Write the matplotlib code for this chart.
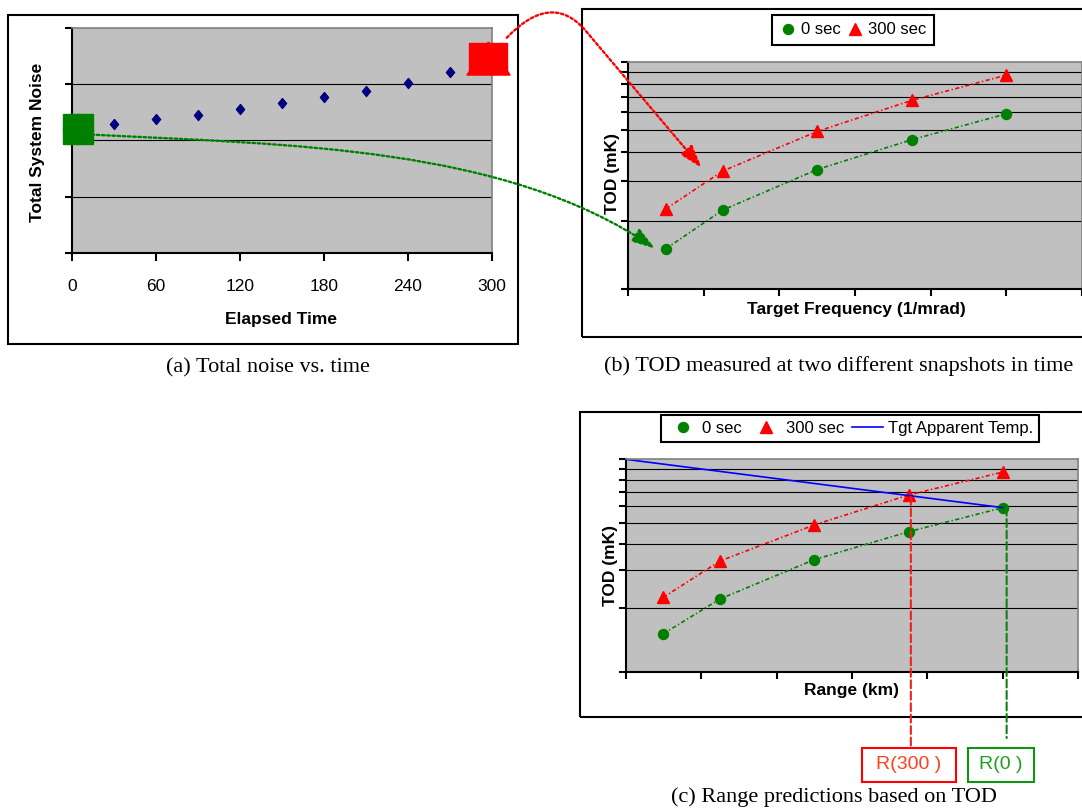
import matplotlib
matplotlib.use('Agg')
import matplotlib.pyplot as plt
from matplotlib.lines import Line2D
from matplotlib.path import Path
from matplotlib.patches import Rectangle, FancyArrowPatch, ArrowStyle, ConnectionPatch
from matplotlib.ticker import FixedLocator, NullFormatter
from matplotlib import transforms
import numpy as np

plt.rcParams['font.family'] = ['Liberation Sans', 'DejaVu Sans']

W, H = 1082, 808

# total system noise, sampled every 30 s
noise_time = [30, 60, 90, 120, 150, 180, 210, 240, 270]
noise_level = [2.30, 2.38, 2.45, 2.56, 2.67, 2.78, 2.88, 3.03, 3.21]
# the two snapshots (0 s and 300 s)
snap_time = [4, 297]
snap_noise = [2.21, 3.47]

# TOD vs target frequency
freq = [0.5, 1.25, 2.5, 3.75, 5.0]
tod_0s = [15.1, 22.3, 33.6, 45.4, 59.0]
tod_300s = [22.6, 33.1, 49.4, 67.6, 87.3]

# TOD vs range, with the apparent target temperature
range_km = [0.5, 1.25, 2.5, 3.75, 5.0]
tod_range_0s = [15.1, 22.0, 33.7, 45.6, 59.2]
tod_range_300s = [22.4, 33.2, 49.1, 67.9, 87.1]
tgt_range = [0.0, 5.0]
tgt_temp = [100.0, 59.2]

# predicted ranges (crossing of TOD with target temperature)
pred_labels = ['R(300 )', 'R(0 )']
pred_range = [3.78, 5.05]
pred_temp = [66.5, 59.2]

GREEN = '#008000'
RED = '#ff0000'
NAVY = '#000080'
BLUE = '#0000ff'
PLOT_BG = '#c0c0c0'

diamond = [(0, 1), (0.82, 0), (0, -1), (-0.82, 0), (0, 1)]
wide_tri = [(0, 1), (-1.3, -1), (1.3, -1), (0, 1)]
wide_box = [(-1.31, -1), (1.31, -1), (1.31, 1), (-1.31, 1), (-1.31, -1)]

fig = plt.figure(figsize=(W / 100, H / 100), dpi=100)


def fig_box(x0, y0, x1, y1):
    return [x0 / W, 1 - y1 / H, (x1 - x0) / W, (y1 - y0) / H]


def add_frame(x0, y0, x1, y1, color='black', lw=1.5):
    l, b, w, h = fig_box(x0, y0, x1, y1)
    fig.add_artist(Rectangle((l, b), w, h, transform=fig.transFigure,
                             fill=False, ec=color, lw=lw, zorder=1))


def style_axes(ax, ticklen_x, ticklen_y):
    ax.set_facecolor(PLOT_BG)
    for s in ('left', 'bottom'):
        ax.spines[s].set(color='black', lw=1.5)
    for s in ('top', 'right'):
        ax.spines[s].set(color='#808080', lw=1.2)
    ax.tick_params(which='both', direction='out', top=False, right=False,
                   width=1.5, color='black')
    ax.tick_params(axis='x', which='both', length=ticklen_x)
    ax.tick_params(axis='y', which='both', length=ticklen_y, labelleft=False)
    ax.yaxis.grid(True, which='minor', color='black', lw=0.8)
    ax.yaxis.grid(False, which='major')


def place_label(ax, label, x_px, y_px):
    pt = fig.transFigure.transform((x_px / W, 1 - y_px / H))
    ax_xy = ax.transAxes.inverted().transform(pt)
    axis = ax.xaxis if label == 'x' else ax.yaxis
    axis.set_label_coords(*ax_xy)
    axis.label.set_verticalalignment('center')
    axis.label.set_horizontalalignment('center')


label_kw = dict(fontsize=12.5, fontweight='bold')

# ---- (a) total noise vs time
add_frame(7.5, 15, 518, 344)
ax_a = fig.add_axes(fig_box(72, 28, 491.9, 252.9))
style_axes(ax_a, 5.8, 4.7)
ax_a.set_xlim(0, 300)
ax_a.set_ylim(0, 4)
ax_a.set_xticks(range(0, 301, 60))
ax_a.yaxis.set_major_locator(FixedLocator([0, 4]))
ax_a.yaxis.set_minor_locator(FixedLocator([1, 2, 3]))
ax_a.tick_params(axis='x', labelsize=12.5, pad=13)
ax_a.plot(noise_time, noise_level, ls='none', marker=diamond, ms=7.2,
          color=NAVY, mec=NAVY, zorder=3)
ax_a.plot(snap_time[0], snap_noise[0], ls='none', marker='s', ms=21,
          color=GREEN, clip_on=False, zorder=5)
ax_a.plot(snap_time[0], snap_noise[0], ls='none', marker='o', ms=21.5,
          color=GREEN, clip_on=False, zorder=5)
ax_a.plot(snap_time[1], snap_noise[1], ls='none', marker=wide_tri, ms=31,
          color=RED, clip_on=False, zorder=5)
ax_a.plot(snap_time[1], snap_noise[1], ls='none', marker=wide_box, ms=27.4,
          color=RED, clip_on=False, zorder=5)
ax_a.set_xlabel('Elapsed Time', **label_kw)
ax_a.set_ylabel('Total System Noise', **label_kw)
place_label(ax_a, 'x', 280.6, 319.5)
place_label(ax_a, 'y', 37.9, 142)


def log_tod_axes(ax):
    style_axes(ax, 4.8, 4.8)
    ax.set_yscale('log')
    ax.set_ylim(10, 100)
    ax.set_xlim(0, 6)
    ax.set_xticks(range(0, 7))
    ax.tick_params(axis='x', labelbottom=False)
    ax.yaxis.set_major_locator(FixedLocator([10, 100]))
    ax.yaxis.set_minor_locator(FixedLocator(list(range(20, 100, 10))))
    ax.yaxis.set_major_formatter(NullFormatter())
    ax.yaxis.set_minor_formatter(NullFormatter())


line_kw = dict(lw=1.2, ls=(0, (2.5, 1.5, 0.8, 1.5)))

# ---- (b) TOD at two snapshots
add_frame(582, 9.3, 1100, 337.3)
ax_b = fig.add_axes(fig_box(628.3, 61.7, 1081.7, 289.3))
log_tod_axes(ax_b)
ax_b.plot(freq, tod_0s, color=GREEN, marker='o', ms=7.2, **line_kw)
ax_b.plot(freq, tod_300s, color=RED, marker='^', ms=8.6, **line_kw)
ax_b.set_xlabel('Target Frequency (1/mrad)', **label_kw)
ax_b.set_ylabel('TOD (mK)', **label_kw)
place_label(ax_b, 'x', 856, 310)
place_label(ax_b, 'y', 612.7, 174)

h_green = Line2D([], [], ls='none', marker='o', ms=7.2, color=GREEN)
h_red = Line2D([], [], ls='none', marker='^', ms=8.6, color=RED)
h_blue = Line2D([], [], color=BLUE, lw=1.2)
leg_b = ax_b.legend([h_green, h_red], ['0 sec', '300 sec'], loc='center',
                    bbox_to_anchor=(853 / W, 1 - 30 / H), bbox_transform=fig.transFigure,
                    ncol=2, fontsize=12, handlelength=1.0, handletextpad=0.25,
                    columnspacing=0.4, borderpad=0.45, fancybox=False, framealpha=1)
leg_b.get_frame().set(edgecolor='black', linewidth=1.5)

# ---- (c) range predictions
add_frame(580, 411.7, 1100, 717.3)
ax_c = fig.add_axes(fig_box(625.7, 459.3, 1078.3, 671.7))
log_tod_axes(ax_c)
ax_c.plot(range_km, tod_range_0s, color=GREEN, marker='o', ms=7.2, **line_kw)
ax_c.plot(range_km, tod_range_300s, color=RED, marker='^', ms=8.6, **line_kw)
ax_c.plot(tgt_range, tgt_temp, color=BLUE, lw=1.2, zorder=2.2)
ax_c.set_xlabel('Range (km)', **label_kw)
ax_c.set_ylabel('TOD (mK)', **label_kw)
place_label(ax_c, 'x', 851.3, 690)
place_label(ax_c, 'y', 610, 566)
leg_c = ax_c.legend([h_green, h_red, h_blue], ['0 sec', '300 sec', 'Tgt Apparent Temp.'],
                    loc='center', bbox_to_anchor=(850 / W, 1 - 428.5 / H),
                    bbox_transform=fig.transFigure, ncol=3, fontsize=12,
                    handlelength=1.85, handletextpad=0.27, columnspacing=0.5,
                    borderpad=0.35, fancybox=False, framealpha=1)
leg_c.get_frame().set(edgecolor='black', linewidth=1.5)

# predicted-range drop lines and their boxes
box_px = [(861.7, 747.7, 956, 781.7), (967.7, 747.7, 1034, 781.7)]
drop_end_px = [747.7, 738]
box_colors = [RED, '#119411']
text_colors = ['#ff4020', '#1e9e1e']
drop_colors = ['#ee2020', '#108010']
to_fig_y = transforms.blended_transform_factory(ax_c.transData, fig.transFigure)
for i in range(2):
    fig.add_artist(ConnectionPatch(
        xyA=(pred_range[i], pred_temp[i]), coordsA=ax_c.transData,
        xyB=(pred_range[i], 1 - drop_end_px[i] / H), coordsB=to_fig_y,
        color=drop_colors[i], lw=1.5, ls=(0, (3.8, 1.7)), zorder=4))
    x0, y0, x1, y1 = box_px[i]
    add_frame(x0, y0, x1, y1, color=box_colors[i], lw=1.5)
    fig.text((x0 + x1) / 2 / W, 1 - (y0 + y1) / 2 / H, pred_labels[i],
             ha='center', va='center', fontsize=14, color=text_colors[i])

# captions
cap_kw = dict(ha='center', va='center', fontsize=16, family='Liberation Serif')
fig.text(268 / W, 1 - 368 / H, '(a) Total noise vs. time', **cap_kw)
fig.text(838.7 / W, 1 - 366 / H, '(b) TOD measured at two different snapshots in time', **cap_kw)
fig.text(834 / W, 1 - 797 / H, '(c) Range predictions based on TOD', **cap_kw)

# snapshot arrows from (a) into (b); offsets are in screen pixels (x right, y down)
inv_fig = fig.transFigure.inverted()


def shifted(pt, dx, dy):
    return np.array([pt[0] + dx, pt[1] - dy])


red_start = shifted(ax_a.transData.transform((snap_time[1], snap_noise[1])), 19, -20)
red_end = shifted(ax_b.transData.transform((freq[1], tod_300s[1])), -21, -3)
red_path = Path(inv_fig.transform([red_start, shifted(red_start, 45, -47),
                                   shifted(red_start, 79, -7), red_end]),
                [Path.MOVETO, Path.CURVE3, Path.CURVE3, Path.LINETO])

green_start = shifted(ax_a.transData.transform((snap_time[0], snap_noise[0])), 14, 6)
green_end = shifted(ax_b.transData.transform((freq[0], tod_0s[0])), -11, 0)
green_path = Path(inv_fig.transform([green_start, shifted(green_start, 200, 10),
                                     shifted(green_end, -150, -102), green_end]),
                  [Path.MOVETO, Path.CURVE4, Path.CURVE4, Path.CURVE4])

head = ArrowStyle('-|>', head_length=1.4, head_width=0.45)
for path, color in ((red_path, RED), (green_path, GREEN)):
    fig.add_artist(FancyArrowPatch(path=path, arrowstyle=head, mutation_scale=10,
                                   color=color, lw=1.7, ls=(0, (1.1, 1.1)),
                                   transform=fig.transFigure, zorder=6))

fig.savefig('out.png', dpi=100)
